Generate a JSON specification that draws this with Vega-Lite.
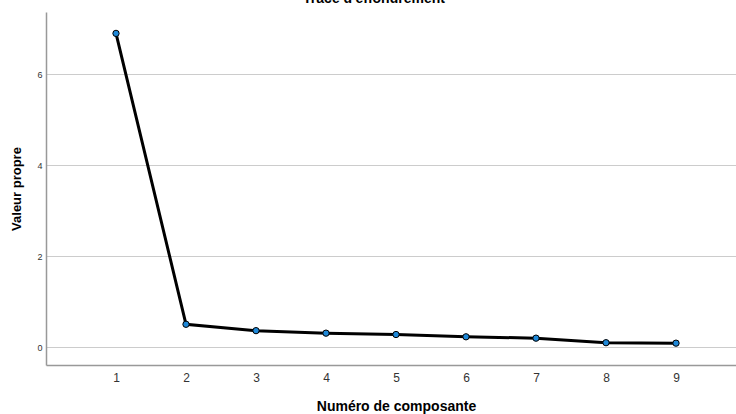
{
  "$schema": "https://vega.github.io/schema/vega-lite/v6.json",
  "autosize": "none",
  "width": 690,
  "height": 353,
  "padding": {"left": 46, "top": 12, "right": 0, "bottom": 49},
  "background": "white",
  "title": {"text": "Tracé d'effondrement", "font": "Liberation Sans", "fontSize": 14, "fontWeight": "bold", "color": "#000000", "anchor": "middle", "offset": 6, "dx": -17},
  "config": {"view": {"stroke": null}},
  "data": {"values": [
    {"composante": 1, "valeur": 6.9},
    {"composante": 2, "valeur": 0.505},
    {"composante": 3, "valeur": 0.365},
    {"composante": 4, "valeur": 0.31},
    {"composante": 5, "valeur": 0.28},
    {"composante": 6, "valeur": 0.23},
    {"composante": 7, "valeur": 0.2},
    {"composante": 8, "valeur": 0.1},
    {"composante": 9, "valeur": 0.09}
  ]},
  "encoding": {
    "x": {"field": "composante", "type": "quantitative",
      "scale": {"domain": [0, 9.857], "nice": false, "zero": false},
      "axis": {"title": "Numéro de composante", "values": [1,2,3,4,5,6,7,8,9], "grid": false, "ticks": false, "tickSize": 0,
        "domainColor": "#999999", "domainWidth": 1.5, "labelFont": "Liberation Sans", "labelFontSize": 12, "labelColor": "#333333", "labelPadding": 7,
        "titleFont": "Liberation Sans", "titleFontSize": 14, "titleFontWeight": "bold", "titleColor": "#000000", "titlePadding": 16, "titleX": 350}},
    "y": {"field": "valeur", "type": "quantitative",
      "scale": {"domain": [-0.39, 7.37], "nice": false, "zero": false},
      "axis": {"title": "Valeur propre", "values": [0,2,4,6], "grid": true, "gridColor": "#cccccc", "gridWidth": 1, "ticks": false, "tickSize": 0,
        "domainColor": "#999999", "domainWidth": 1.5, "labelFont": "Liberation Sans", "labelFontSize": 9, "labelColor": "#333333", "labelPadding": 4,
        "titleFont": "Liberation Sans", "titleFontSize": 13, "titleFontWeight": "bold", "titleColor": "#000000", "titlePadding": 13}}
  },
  "layer": [
    {"mark": {"type": "line", "color": "#000000", "strokeWidth": 3}},
    {"mark": {"type": "point", "filled": true, "fill": "#1e88d8", "stroke": "#000000", "strokeWidth": 1, "size": 40, "opacity": 1}}
  ]
}
